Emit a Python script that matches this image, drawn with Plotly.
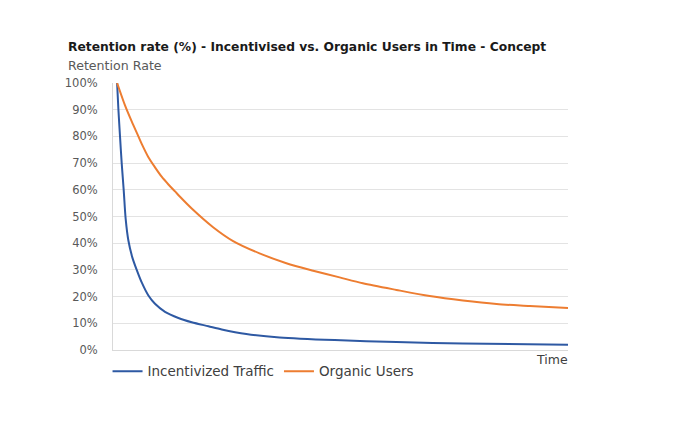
import plotly.graph_objects as go

# Time positions (0-100 scale across the axis) and retention (%)
incent_t = [0.9, 1.19, 1.54, 1.91, 2.35, 2.79, 3.38, 4.26, 5.21, 6.31, 7.78, 9.23, 11.43, 14.37,
            17.3, 20.97, 23.89, 29.3, 36.6, 48.7, 62.3, 76.9, 100]
incent_v = [100, 90, 80, 70, 60, 49, 41, 34.6, 30, 25.3, 20.4, 17.3, 14.3, 12,
            10.4, 8.9, 7.7, 6.0, 4.7, 3.7, 3.0, 2.4, 2.0]

organic_t = [0.9, 2.64, 4.11, 5.58, 6.31, 7.78, 9.16, 10.70, 12.18, 13.63, 14.73, 17.3, 22.0,
             26.4, 32.2, 38.1, 44.0, 49.8, 54.9, 62.3, 69.6, 76.9, 84.3, 91.6, 100]
organic_v = [100, 91.6, 85.6, 80, 77.2, 72.2, 68.6, 64.9, 62.0, 59.4, 57.4, 53.0, 46.0,
             40.8, 36.2, 32.5, 29.7, 27.2, 25, 22.5, 20.2, 18.5, 17.2, 16.5, 15.7]

y_ticks = [0, 10, 20, 30, 40, 50, 60, 70, 80, 90, 100]
y_labels = [f"{v}%" for v in y_ticks]

FONT = "DejaVu Sans"

fig = go.Figure()
fig.add_trace(go.Scatter(x=incent_t, y=incent_v, mode="lines", name="Incentivized Traffic",
                         line=dict(color="#2e59a3", width=2, shape="spline", smoothing=0.8)))
fig.add_trace(go.Scatter(x=organic_t, y=organic_v, mode="lines", name="Organic Users",
                         line=dict(color="#ed7d31", width=2, shape="spline", smoothing=0.8)))

# page body has an 8px default margin, so the figure is offset by (8, 8) on screen
fig.update_layout(
    width=692, height=423,
    margin=dict(l=105, r=132, t=75, b=81, autoexpand=False),
    paper_bgcolor="white", plot_bgcolor="white",
    font=dict(family=FONT, size=10, color="#595959"),
    showlegend=True,
    legend=dict(orientation="h", x=-0.012, y=-0.022, xanchor="left", yanchor="top",
                font=dict(family=FONT, size=13.5, color="#404040"),
                itemwidth=30, tracegroupgap=0, bgcolor="rgba(0,0,0,0)"),
    xaxis=dict(range=[0, 100], showgrid=False, showticklabels=False, ticks="", automargin=False,
               showline=True, linecolor="#d9d9d9", linewidth=1, zeroline=False, fixedrange=True),
    yaxis=dict(range=[0, 100], tickvals=y_ticks, ticktext=y_labels, showgrid=True, automargin=False,
               gridcolor="#e3e3e3", gridwidth=1, showline=True, linecolor="#d9d9d9",
               linewidth=1, zeroline=False, ticks="", ticklen=0, ticklabelstandoff=12,
               tickfont=dict(family=FONT, size=11.5, color="#595959")),
    annotations=[
        dict(text="<b>Retention rate (%) - Incentivised vs. Organic Users in Time - Concept</b>",
             xref="paper", yref="paper", x=-0.103, y=1.135, xanchor="left", yanchor="middle",
             showarrow=False, font=dict(family=FONT, size=12.3, color="#1a1a1a")),
        dict(text="Retention Rate", xref="paper", yref="paper", x=-0.103, y=1.064,
             xanchor="left", yanchor="middle", showarrow=False,
             font=dict(family=FONT, size=12.6, color="#595959")),
        dict(text="Time", xref="paper", yref="paper", x=1.004, y=-0.037,
             xanchor="right", yanchor="middle", showarrow=False,
             font=dict(family=FONT, size=12.5, color="#404040")),
    ],
)

fig.write_html("out.html")
